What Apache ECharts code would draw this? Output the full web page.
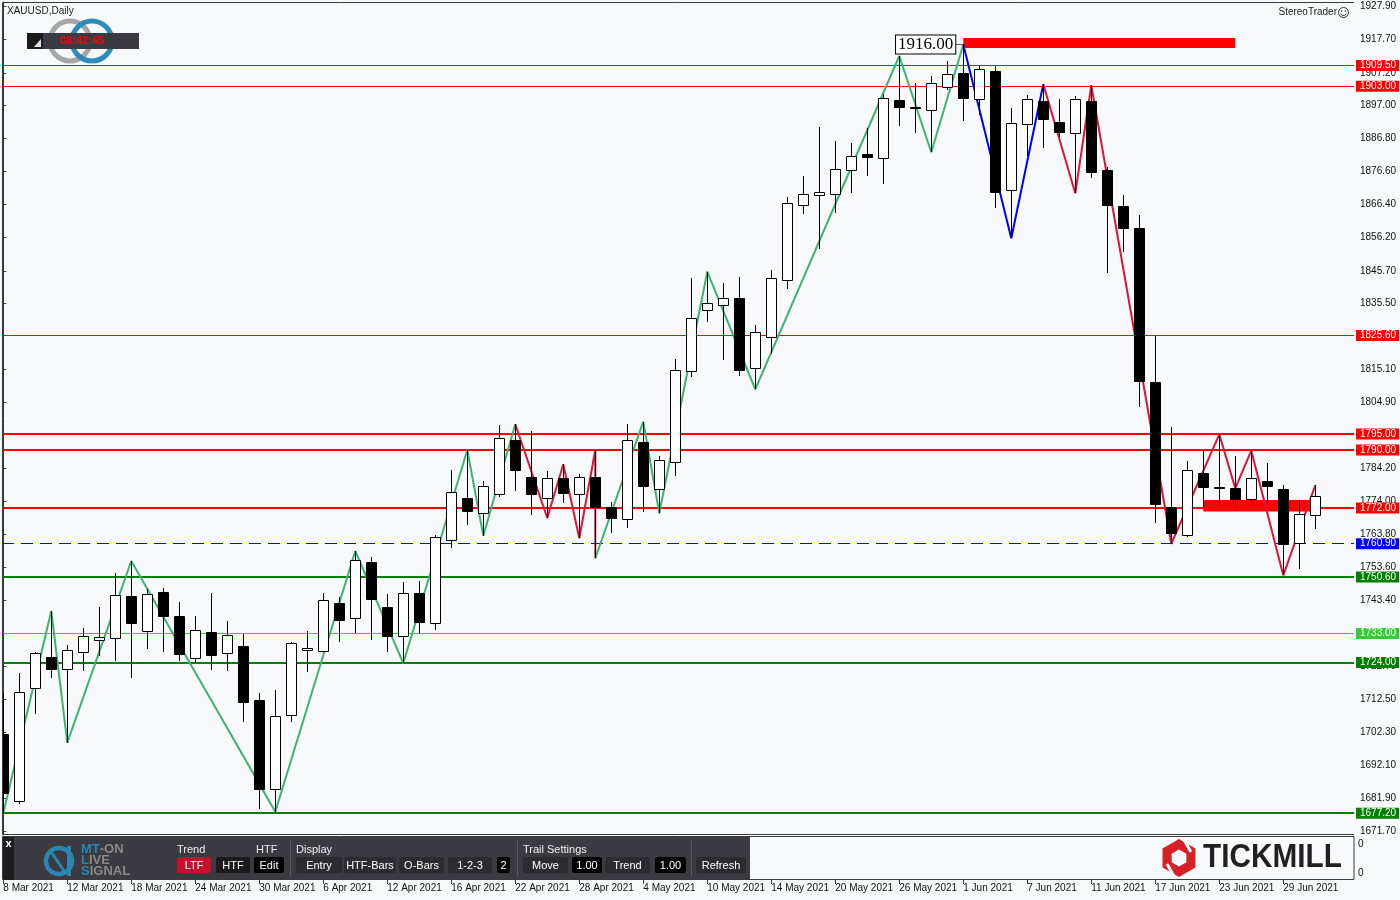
<!DOCTYPE html>
<html>
<head>
<meta charset="utf-8">
<script src="https://cdn.jsdelivr.net/npm/echarts@6/dist/echarts.min.js"></script>
<style>html,body{margin:0;padding:0;background:#f8f9fb}#c{width:1400px;height:900px}</style>
</head>
<body>
<div id="c"></div>
<script>
// ---------------- DATA ----------------
const dates = ['8 Mar 2021','9 Mar 2021','10 Mar 2021','11 Mar 2021','12 Mar 2021','15 Mar 2021','16 Mar 2021','17 Mar 2021','18 Mar 2021','19 Mar 2021',
'22 Mar 2021','23 Mar 2021','24 Mar 2021','25 Mar 2021','26 Mar 2021','29 Mar 2021','30 Mar 2021','31 Mar 2021','1 Apr 2021','5 Apr 2021',
'6 Apr 2021','7 Apr 2021','8 Apr 2021','9 Apr 2021','12 Apr 2021','13 Apr 2021','14 Apr 2021','15 Apr 2021','16 Apr 2021','19 Apr 2021',
'20 Apr 2021','21 Apr 2021','22 Apr 2021','23 Apr 2021','26 Apr 2021','27 Apr 2021','28 Apr 2021','29 Apr 2021','30 Apr 2021','3 May 2021',
'4 May 2021','5 May 2021','6 May 2021','7 May 2021','10 May 2021','11 May 2021','12 May 2021','13 May 2021','14 May 2021','17 May 2021',
'18 May 2021','19 May 2021','20 May 2021','21 May 2021','24 May 2021','25 May 2021','26 May 2021','27 May 2021','28 May 2021','31 May 2021',
'1 Jun 2021','2 Jun 2021','3 Jun 2021','4 Jun 2021','7 Jun 2021','8 Jun 2021','9 Jun 2021','10 Jun 2021','11 Jun 2021','14 Jun 2021',
'15 Jun 2021','16 Jun 2021','17 Jun 2021','18 Jun 2021','21 Jun 2021','22 Jun 2021','23 Jun 2021','24 Jun 2021','25 Jun 2021','28 Jun 2021',
'29 Jun 2021','30 Jun 2021','1 Jul 2021'];

const opens = [1701.80,1680.89,1715.99,1725.62,1721.89,1727.18,1730.90,1731.53,1744.57,1733.70,
1745.82,1738.36,1725.50,1733.39,1726.86,1729.04,1712.26,1684.62,1707.60,1727.80,
1727.49,1742.49,1737.74,1755.23,1741.16,1732.15,1745.50,1736.28,1761.97,1775.11,
1770.36,1776.26,1793.04,1781.54,1775.02,1781.23,1776.26,1781.54,1772.41,1768.49,
1792.42,1777.81,1786.39,1814.47,1833.42,1834.98,1837.15,1815.40,1825.03,1842.74,
1866.04,1869.15,1869.46,1876.91,1881.98,1880.64,1898.75,1896.58,1895.55,1902.89,
1907.05,1899.16,1907.67,1870.70,1891.20,1898.44,1891.83,1888.41,1898.44,1876.91,
1865.73,1858.90,1811.05,1772.41,1763.52,1782.78,1778.59,1778.12,1774.71,1780.30,
1777.81,1761.04,1769.74];

const closes = [1683.47,1714.94,1726.86,1722.08,1727.80,1732.15,1731.84,1744.88,1736.19,1745.19,
1738.55,1726.74,1734.01,1726.43,1732.46,1711.83,1684.80,1707.29,1729.97,1728.42,
1743.33,1737.30,1755.85,1743.83,1732.33,1745.50,1736.50,1763.00,1776.88,1770.98,
1778.75,1793.66,1783.90,1776.45,1781.23,1776.76,1781.54,1772.41,1768.81,1793.04,
1778.93,1786.82,1814.78,1830.94,1835.60,1837.15,1814.97,1826.59,1843.36,1866.66,
1869.46,1870.08,1877.23,1881.36,1881.14,1899.38,1896.67,1896.27,1903.94,1906.74,
1899.47,1908.29,1870.27,1891.52,1898.97,1892.76,1888.72,1898.97,1876.29,1866.04,
1858.90,1811.55,1773.15,1764.14,1783.72,1778.43,1778.47,1774.71,1781.23,1778.93,
1760.90,1770.05,1775.64];

const highs = [1714.53,1720.65,1727.27,1740.01,1729.44,1734.73,1741.25,1751.81,1755.54,1746.75,
1747.06,1742.71,1738.45,1745.50,1736.90,1732.86,1714.44,1715.46,1730.38,1733.79,
1745.60,1744.26,1758.65,1756.78,1745.29,1749.02,1749.33,1763.62,1783.81,1790.02,
1780.49,1797.79,1798.01,1795.83,1783.50,1785.58,1782.57,1790.02,1773.78,1798.10,
1798.81,1788.16,1818.29,1843.46,1845.41,1841.81,1843.77,1828.86,1845.94,1868.62,
1875.14,1890.37,1886.02,1885.40,1890.06,1900.62,1912.42,1903.94,1906.30,1910.87,
1916.00,1909.41,1909.41,1896.27,1900.31,1903.63,1898.97,1899.90,1903.32,1877.85,
1869.15,1862.94,1825.44,1797.07,1786.51,1789.81,1794.90,1788.07,1789.81,1785.89,
1779.06,1774.40,1779.06];

const lows = [1677.25,1680.05,1708.01,1719.29,1699.10,1721.37,1726.03,1724.47,1719.10,1728.29,
1727.36,1724.47,1723.76,1721.77,1721.46,1705.62,1678.59,1677.66,1705.62,1721.15,
1727.36,1730.47,1733.27,1731.00,1727.36,1723.76,1732.86,1734.20,1759.67,1766.82,
1763.40,1775.42,1777.38,1769.92,1768.90,1773.65,1762.59,1756.38,1764.14,1765.88,
1770.86,1770.36,1782.04,1812.79,1829.88,1818.08,1813.10,1808.88,1819.85,1840.13,
1863.25,1852.37,1863.74,1869.96,1875.24,1872.75,1890.68,1888.41,1882.51,1901.86,
1892.32,1894.09,1865.30,1855.79,1881.36,1883.75,1887.35,1869.77,1874.43,1844.92,
1851.63,1803.47,1767.25,1760.90,1762.90,1772.41,1773.46,1772.84,1773.78,1773.46,
1751.09,1753.15,1765.57];

// zigzag pivots [bar index, price]
const zigGreenA = [[0,1677.25],[3,1740.01],[4,1699.10],[8,1755.54],[17,1677.66],[22,1758.65],[25,1723.76],[29,1790.02],[30,1763.40],[32,1798.01]];
const zigRedA   = [[32,1798.01],[34,1768.90],[35,1785.58],[36,1762.59],[37,1790.02],[37,1756.38]];
const zigGreenB = [[37,1756.38],[40,1798.81],[41,1770.36],[44,1845.41],[47,1808.88],[56,1912.42],[58,1882.51],[60,1916.00]];
const zigBlue   = [[60,1916.00],[63,1855.79],[65,1903.63]];
const zigRedB   = [[65,1903.63],[67,1869.77],[68,1903.32],[73,1760.90],[76,1794.90],[77,1778.10],[78,1789.81],[80,1751.09],[82,1779.06]];

// horizontal levels
const levelValues = [1909.50,1903.00,1825.60,1795.00,1790.00,1772.00,1760.90,1750.60,1733.00,1724.00,1677.20];
// zones [fromIndex, toIndex, topPrice, bottomPrice]
const zones = [[60,77,1918.0,1914.9],[75,81.7,1774.5,1770.9]];
const peakLabel = [60,1916.00];

const priceTicks = [1927.9,1917.7,1907.2,1897.0,1886.8,1876.6,1866.4,1856.2,1845.7,1835.5,1815.1,1804.9,1784.2,1774.0,1763.8,1753.6,1743.4,1722.7,1712.5,1702.3,1692.1,1681.9,1671.7];
const dateTickIdx = [0,4,8,12,16,20,24,28,32,36,40,44,48,52,56,60,64,68,72,76,80];

// ---------------- STYLES ----------------
const levelStyles = [
 {c:'#ff0000',w:1,bg:'#ff0000'},{c:'#ff0000',w:1,bg:'#ff0000'},{c:'#ff0000',w:1,bg:'#ff0000'},
 {c:'#ff0000',w:2,bg:'#ff0000'},{c:'#ff0000',w:2,bg:'#ff0000'},{c:'#ff0000',w:2,bg:'#ff0000'},
 {c:'#0000ff',w:1,bg:'#0000ff',dash:[12,7]},
 {c:'#008000',w:2,bg:'#008000'},{c:'#32cd32',w:1,bg:'#32cd32'},{c:'#008000',w:2,bg:'#008000'},{c:'#008000',w:2,bg:'#008000'}
];

const X_MIN = -0.081, X_MAX = 84.42;
const Y_MIN = 1670.73, Y_MAX = 1929.19;
const FONT = 'Liberation Sans';

const candleData = dates.map((d,i)=>[i, opens[i], closes[i], lows[i], highs[i]]);

function renderCandle(params, api){
  const i=api.value(0), o=api.value(1), c=api.value(2), l=api.value(3), h=api.value(4);
  const pH=api.coord([i,h]), pL=api.coord([i,l]), pO=api.coord([i,o]), pC=api.coord([i,c]);
  const x=Math.round(pH[0]);
  let top=Math.round(Math.min(pO[1],pC[1])), bot=Math.round(Math.max(pO[1],pC[1]));
  if(bot-top<1) bot=top+1;
  const up=c>o;
  return {type:'group', children:[
    {type:'line', shape:{x1:x+0.5,y1:Math.round(pH[1]),x2:x+0.5,y2:Math.round(pL[1])}, style:{stroke:'#000',lineWidth:1}},
    {type:'rect', shape:{x:x-4.5,y:top+0.5,width:10,height:bot-top}, style:{fill:up?'#ffffff':'#000000',stroke:'#000',lineWidth:1}}
  ]};
}

function zig(data,color,extra){
  return Object.assign({type:'line', xAxisIndex:0, yAxisIndex:0, data:data, symbol:'none', showSymbol:false,
    lineStyle:{color:color,width:2}, z:3, silent:true, animation:false, clip:true}, extra||{});
}

const markLineLevels = {
  symbol:['none','none'], silent:true, animation:false, z:2,
  data: levelValues.map((v,i)=>({yAxis:v,
    lineStyle:{color:levelStyles[i].c,width:levelStyles[i].w,type:levelStyles[i].dash||'solid'},
    label:{show:true,position:'end',distance:2,formatter:v.toFixed(2),color:'#fff',backgroundColor:levelStyles[i].bg,
      fontSize:10,fontFamily:FONT,padding:[1,3,0,4],lineHeight:10}}))
};

const markAreaZones = {
  silent:true, animation:false,
  itemStyle:{color:'#ff0000',opacity:1},
  data: zones.map(z=>[{coord:[z[0],z[2]]},{coord:[z[1],z[3]]}])
};

// ---------------- GRAPHICS ----------------
const G = [];
// frame
G.push({type:'polyline', shape:{points:[[2.5,835],[2.5,2.5],[1354,2.5]]}, style:{stroke:'#3a3a3a',fill:null,lineWidth:1}, z:50});
G.push({type:'line', shape:{x1:2,y1:834.5,x2:1354,y2:834.5}, style:{stroke:'#3a3a3a',lineWidth:1}, z:50});
G.push({type:'rect', shape:{x:2.5,y:836.5,width:1351.5,height:43}, style:{fill:'#f8f9fb',stroke:'#3a3a3a',lineWidth:1}, z:1});
// title
G.push({type:'text', style:{x:7,y:11,text:'XAUUSD,Daily',fontSize:10,fontFamily:FONT,fill:'#1a1a1a',verticalAlign:'middle'}, z:60});
G.push({type:'text', style:{x:1337,y:12.5,text:'StereoTrader',fontSize:10,fontFamily:FONT,fill:'#222',align:'right',verticalAlign:'middle'}, z:60});
G.push({type:'circle', shape:{cx:1343.5,cy:12.5,r:5}, style:{fill:'none',stroke:'#333',lineWidth:1}, z:60});
G.push({type:'circle', shape:{cx:1341.5,cy:11,r:0.8}, style:{fill:'#333'}, z:60});
G.push({type:'circle', shape:{cx:1345.5,cy:11,r:0.8}, style:{fill:'#333'}, z:60});
G.push({type:'arc', shape:{cx:1343.5,cy:12.5,r:3,startAngle:0.4,endAngle:Math.PI-0.4}, style:{stroke:'#333',fill:'none',lineWidth:1}, z:60});
// top-left clock logo
G.push({type:'circle', shape:{cx:70,cy:41,r:20}, style:{fill:'none',stroke:'#a6a6a6',lineWidth:5}, z:60});
G.push({type:'circle', shape:{cx:92,cy:41,r:20}, style:{fill:'none',stroke:'#2b8cba',lineWidth:5}, z:61});
G.push({type:'rect', shape:{x:27,y:33,width:112,height:16}, style:{fill:'#3b3a42'}, z:62});
G.push({type:'rect', shape:{x:27,y:33,width:16,height:16}, style:{fill:'#1c1c1c'}, z:63});
G.push({type:'polygon', shape:{points:[[41,39],[41,47],[34,47]]}, style:{fill:'#e6e6e6'}, z:64});
G.push({type:'text', style:{x:82,y:41,text:'08:42:45',fontSize:11,fontWeight:'bold',fontFamily:FONT,fill:'#ff0000',align:'center',verticalAlign:'middle'}, z:64});

// bottom panel
G.push({type:'rect', shape:{x:3,y:837,width:747,height:43}, style:{fill:'#3b3a40'}, z:5});
G.push({type:'rect', shape:{x:3,y:837,width:11,height:43}, style:{fill:'#1d1d1f'}, z:6});
G.push({type:'text', style:{x:8.5,y:844,text:'x',fontSize:11,fontWeight:'bold',fontFamily:FONT,fill:'#ffffff',align:'center',verticalAlign:'middle'}, z:7});
// MT-ON logo
G.push({type:'circle', shape:{cx:59,cy:861,r:13}, style:{fill:'none',stroke:'#2a86b0',lineWidth:4.5}, z:7});
G.push({type:'line', shape:{x1:69,y1:846,x2:69,y2:876}, style:{stroke:'#2a86b0',lineWidth:4}, z:8});
G.push({type:'line', shape:{x1:50,y1:850,x2:66,y2:874}, style:{stroke:'#2a86b0',lineWidth:3}, z:8});
const logoRich = {b:{fill:'#2a86b0',fontSize:13,fontWeight:'bold',fontFamily:FONT},g:{fill:'#8a8a8a',fontSize:13,fontWeight:'bold',fontFamily:FONT}};
G.push({type:'text', style:{x:81,y:849,text:'{b|MT}{g|-ON}',fontFamily:FONT,verticalAlign:'middle',rich:logoRich}, z:7});
G.push({type:'text', style:{x:81,y:860,text:'{b|L}{g|IVE}',fontFamily:FONT,verticalAlign:'middle',rich:logoRich}, z:7});
G.push({type:'text', style:{x:81,y:871,text:'{b|S}{g|IGNAL}',fontFamily:FONT,verticalAlign:'middle',rich:logoRich}, z:7});
// section headings
[['Trend',177],['HTF',256],['Display',296],['Trail Settings',523]].forEach(t=>{
  G.push({type:'text', style:{x:t[1],y:849.5,text:t[0],fontSize:11,fontFamily:FONT,fill:'#f0f0f0',verticalAlign:'middle'}, z:7});
});
// separators
[290,517,691].forEach(x=>{
  G.push({type:'line', shape:{x1:x+0.5,y1:840,x2:x+0.5,y2:877}, style:{stroke:'#58575e',lineWidth:1}, z:7});
});
// buttons
const BTN = [['LTF',177,34,'#c8102e'],['HTF',216,34,'#1a1a1a'],['Edit',254,30,'#000000'],
 ['Entry',296,46,'#2c2b30'],['HTF-Bars',344,52,'#2c2b30'],['O-Bars',399,45,'#2c2b30'],['1-2-3',448,44,'#2c2b30'],['2',497,13,'#000000'],
 ['Move',523,45,'#2c2b30'],['1.00',572,30,'#000000'],['Trend',605,45,'#2c2b30'],['1.00',655,31,'#000000'],['Refresh',696,50,'#2c2b30']];
BTN.forEach(b=>{
  G.push({type:'rect', shape:{x:b[1],y:857,width:b[2],height:16,r:2}, style:{fill:b[3]}, z:7});
  G.push({type:'text', style:{x:b[1]+b[2]/2,y:865.5,text:b[0],fontSize:11,fontFamily:FONT,fill:'#ffffff',align:'center',verticalAlign:'middle'}, z:8});
});
// Tickmill logo
(function(){
  const cx=1179, cy=858, r=19, pts=[], inner=[];
  for(let a=0;a<6;a++){const t=Math.PI/6+a*Math.PI/3; pts.push([cx+r*Math.cos(t),cy+r*Math.sin(t)]); inner.push([cx+8.5*Math.cos(t),cy+8.5*Math.sin(t)]);}
  G.push({type:'polygon', shape:{points:pts}, style:{fill:'#d42026'}, z:7});
  G.push({type:'polygon', shape:{points:inner}, style:{fill:'#f8f9fb'}, z:8});
  G.push({type:'line', shape:{x1:cx+4,y1:cy-20,x2:cx+12,y2:cy-6}, style:{stroke:'#f8f9fb',lineWidth:3}, z:9});
  G.push({type:'line', shape:{x1:cx-4,y1:cy+20,x2:cx-12,y2:cy+6}, style:{stroke:'#f8f9fb',lineWidth:3}, z:9});
})();
G.push({type:'text', x:1203, y:858, scaleX:0.875, style:{x:0,y:0,text:'TICKMILL',fontSize:34,fontWeight:'bold',fontFamily:FONT,fill:'#231f20',verticalAlign:'middle'}, z:7});

// ---------------- CHART ----------------
const chart = echarts.init(document.getElementById('c'), null, {renderer:'canvas'});
chart.setOption({
  animation:false,
  backgroundColor:'#f8f9fb',
  textStyle:{fontFamily:FONT},
  grid:[
    {left:2, top:2, width:1352, height:832},
    {left:2, top:836, width:1352, height:44}
  ],
  xAxis:[
    {type:'value', gridIndex:0, min:X_MIN, max:X_MAX, show:false},
    {type:'value', gridIndex:1, min:X_MIN, max:X_MAX,
      axisLine:{show:false}, splitLine:{show:false},
      axisTick:{show:true, customValues:dateTickIdx, length:4, lineStyle:{color:'#3a3a3a'}},
      axisLabel:{show:true, customValues:dateTickIdx, formatter:v=>dates[Math.round(v)], align:'left', margin:3, fontSize:10, fontFamily:FONT, color:'#111'}}
  ],
  yAxis:[
    {type:'value', gridIndex:0, position:'right', min:Y_MIN, max:Y_MAX, splitLine:{show:false},
      axisLine:{show:true, lineStyle:{color:'#3a3a3a'}},
      axisTick:{show:true, customValues:priceTicks, length:3, lineStyle:{color:'#3a3a3a'}},
      axisLabel:{show:true, customValues:priceTicks, formatter:v=>v.toFixed(2), margin:6, fontSize:10, fontFamily:FONT, color:'#111'}},
    {type:'value', gridIndex:1, position:'right', min:0, max:1, splitLine:{show:false},
      axisLine:{show:true, lineStyle:{color:'#3a3a3a'}}, axisTick:{show:false},
      axisLabel:{show:true, customValues:[0.16,0.82], formatter:()=>'0', margin:4, fontSize:10, fontFamily:FONT, color:'#111'}}
  ],
  series:[
    zig(zigGreenA,'#3cb371',{markLine:markLineLevels, markArea:markAreaZones}),
    zig(zigRedA,'#dc143c'),
    zig(zigGreenB,'#3cb371'),
    zig(zigBlue,'#0000ff',{
      markPoint:{symbol:'rect',symbolSize:0.01,animation:false,silent:true,
        data:[{coord:peakLabel, label:{show:true,position:'left',distance:8,formatter:peakLabel[1].toFixed(2),
          fontFamily:'Liberation Serif',fontSize:17,color:'#000',backgroundColor:'#ffffff',borderColor:'#000',borderWidth:1,padding:[1,2,0,2]}}]},
      markLine:{symbol:['none','none'],silent:true,animation:false,label:{show:false},lineStyle:{color:'#555',width:1,type:'solid'},
        data:[[{coord:[peakLabel[0]-0.5,peakLabel[1]]},{coord:[peakLabel[0],peakLabel[1]]}]]}
    }),
    zig(zigRedB,'#dc143c'),
    {type:'custom', xAxisIndex:0, yAxisIndex:0, data:candleData, renderItem:renderCandle, clip:true, z:10, silent:true, animation:false,
      encode:{x:0,y:[1,2,3,4]}}
  ],
  graphic:G
});
</script>
</body>
</html>
